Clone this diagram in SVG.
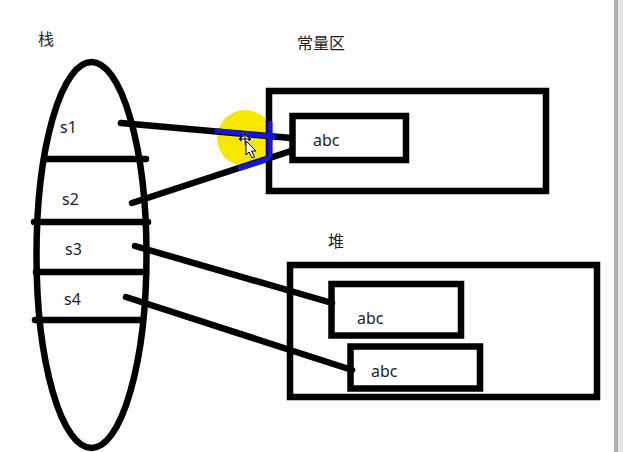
<svg xmlns="http://www.w3.org/2000/svg" width="623" height="452" viewBox="0 0 623 452">
  <style>
    .ln { fill: none; stroke: #000; stroke-width: 6.5; stroke-linecap: round; stroke-linejoin: round; }
    .box { fill: none; stroke: #000; stroke-width: 6.5; }
    .lbl { font-family: "Noto Sans", "Liberation Sans", "Noto Sans CJK SC", sans-serif; font-size: 16px; fill: #1e1e2a; }
    .cjk { font-family: "Noto Sans CJK SC", "Noto Sans", sans-serif; font-size: 16px; fill: #1e1e2a; }
  </style>
  <rect x="0" y="0" width="623" height="452" fill="#fdfdfd"/>
  <rect x="614" y="0" width="4" height="452" fill="#b0b0b0"/>
  <rect x="618" y="0" width="5" height="452" fill="#e6e6e6"/>

  <g id="highlight-back">
    <circle cx="245" cy="138" r="28" fill="#f6e800"/>
  </g>

  <g id="stack">
    <text class="cjk" x="38" y="45">栈</text>
    <ellipse class="ln" cx="91.5" cy="255" rx="55" ry="193"/>
    <line class="ln" x1="44" y1="159" x2="146" y2="159"/>
    <line class="ln" x1="34" y1="222" x2="148" y2="222"/>
    <line class="ln" x1="36" y1="272" x2="146" y2="272"/>
    <line class="ln" x1="35" y1="320" x2="143" y2="320"/>
    <text class="lbl" x="60" y="133">s1</text>
    <text class="lbl" x="62" y="205">s2</text>
    <text class="lbl" x="65" y="255">s3</text>
    <text class="lbl" x="64" y="305">s4</text>
  </g>

  <g id="constant-pool">
    <text class="cjk" x="297" y="49">常量区</text>
    <rect class="box" x="269" y="91" width="277" height="100"/>
    <g id="const-abc">
      <rect class="box" x="292.5" y="116" width="113.5" height="44"/>
      <text class="lbl" x="313" y="146">abc</text>
    </g>
  </g>

  <g id="heap">
    <text class="cjk" x="328" y="247">堆</text>
    <rect class="box" x="290" y="265" width="307" height="132"/>
    <g id="heap-abc-1">
      <rect class="box" x="331.5" y="284" width="129.5" height="51.5"/>
      <text class="lbl" x="357" y="324">abc</text>
    </g>
    <g id="heap-abc-2">
      <rect class="box" x="350.5" y="346.5" width="129.5" height="42"/>
      <text class="lbl" x="371" y="377">abc</text>
    </g>
  </g>

  <g id="connectors">
    <line class="ln" x1="121" y1="123" x2="291" y2="138"/>
    <line class="ln" x1="132" y1="203" x2="291" y2="151"/>
    <line class="ln" x1="135" y1="246" x2="332" y2="303"/>
    <line class="ln" x1="126" y1="297" x2="352" y2="370"/>
  </g>

  <g id="highlight-front">
    <path d="M217,131 L274,136.5" fill="none" stroke="#1414e6" stroke-width="5" stroke-linecap="round"/>
    <path d="M270,123 L270,155 Q269,159 262,161 L240,168" fill="none" stroke="#1414e6" stroke-width="5" stroke-linecap="round" stroke-linejoin="round"/>
    <g stroke="#000" stroke-width="1" fill="#fff">
      <path d="M239,139 L251,139 M245,133 L245,145" stroke="#fff" stroke-width="3"/>
      <path d="M239,139 L251,139 M245,133 L245,145"/>
      <path d="M239,139 l2,-2 v4 z M251,139 l-2,-2 v4 z M245,133 l-2,2 h4 z" fill="#000"/>
      <path d="M246,141 L246,155 L249,152 L252,158 L254.5,157 L251.5,151 L256,151 Z"/>
    </g>
  </g>
</svg>
